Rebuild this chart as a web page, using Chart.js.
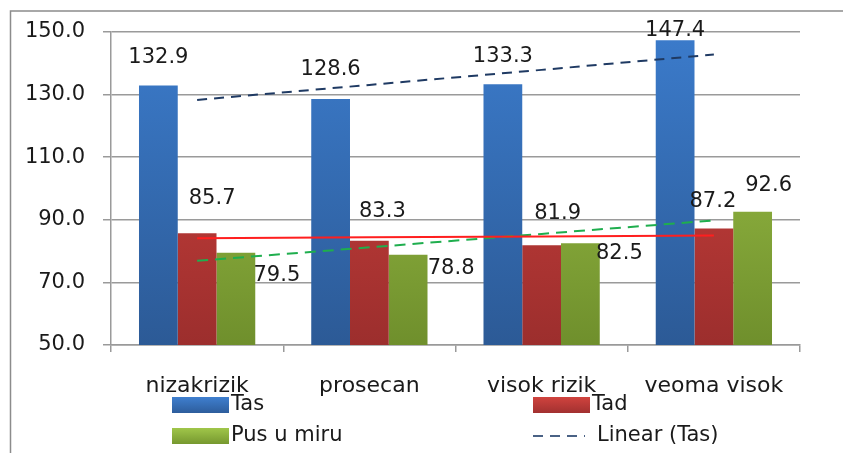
<!DOCTYPE html>
<html>
<head>
<meta charset="utf-8">
<script src="https://cdn.jsdelivr.net/npm/chart.js@4.4.0/dist/chart.umd.min.js"></script>
<style>
  html, body { margin: 0; padding: 0; background: #fff; }
  #wrap { width: 843px; height: 453px; }
</style>
</head>
<body>
<div id="wrap"><canvas id="myChart" width="843" height="453"></canvas></div>
<script>
// podaci
const categories = ['nizakrizik', 'prosecan', 'visok rizik', 'veoma visok'];
const tasValues = [132.9, 128.6, 133.3, 147.4];
const tadValues = [85.7, 83.3, 81.9, 87.2];
const pusValues = [79.5, 78.8, 82.5, 92.6];
// trend linije (ocitano sa slike)
const tasTrend = [128.3, 133.1, 137.9, 142.8];
const tadTrend = [84.1, 84.4, 84.7, 85.0];
const pusTrend = [76.9, 81.2, 85.5, 89.8];
const yTicks = [50, 70, 90, 110, 130, 150];

// pomeranje natpisa [dx, dy] od vrha stubica
const labelNudge = [
  [[0, -28], [0, -29], [0, -28], [0, -10]],
  [[15, -35], [13, -29], [16, -32], [-1, -27]],
  [[41, 23], [43, 14], [39, 10], [16, -26]]
];

const FONT = "'DejaVu Sans', sans-serif";
const TXT = '#1a1a1a';
const GRID = '#9a9a9a';

function grad(ctx, top, bottom) {
  const chart = ctx.chart;
  const area = chart.chartArea;
  if (!area) return top;
  const g = chart.ctx.createLinearGradient(0, area.top, 0, area.bottom);
  g.addColorStop(0, top);
  g.addColorStop(1, bottom);
  return g;
}

const frame = {
  id: 'frame',
  beforeDraw(chart) {
    const c = chart.ctx;
    c.save();
    c.fillStyle = '#fff';
    c.fillRect(0, 0, chart.width, chart.height);
    c.strokeStyle = '#8c8c8c';
    c.lineWidth = 1.5;
    c.beginPath();
    c.moveTo(10.5, chart.height);
    c.lineTo(10.5, 11);
    c.lineTo(chart.width, 11);
    c.stroke();
    c.restore();
  }
};

const valueLabels = {
  id: 'valueLabels',
  afterDatasetsDraw(chart) {
    const c = chart.ctx;
    c.save();
    c.font = '21px ' + FONT;
    c.fillStyle = TXT;
    c.textAlign = 'center';
    c.textBaseline = 'middle';
    [0, 1, 2].forEach((di) => {
      const meta = chart.getDatasetMeta(di);
      meta.data.forEach((bar, i) => {
        const n = labelNudge[di][i];
        c.fillText(chart.data.datasets[di].data[i].toFixed(1), bar.x + n[0], bar.y + n[1]);
      });
    });
    c.restore();
  }
};

const gridLegend = {
  id: 'gridLegend',
  afterDraw(chart) {
    const c = chart.ctx;
    const items = [
      { ds: 0, x: 172, y: 405 },
      { ds: 1, x: 533, y: 405 },
      { ds: 2, x: 172, y: 436 },
      { ds: 3, x: 533, y: 436 }
    ];
    c.save();
    c.font = '21px ' + FONT;
    c.fillStyle = TXT;
    c.textBaseline = 'middle';
    items.forEach((it) => {
      const d = chart.data.datasets[it.ds];
      if (d.type === 'line') {
        c.strokeStyle = '#4a6285';
        c.lineWidth = 2;
        c.setLineDash([10, 7]);
        c.beginPath();
        c.moveTo(it.x, it.y);
        c.lineTo(it.x + 52, it.y);
        c.stroke();
        c.setLineDash([]);
      } else {
        const g = c.createLinearGradient(0, it.y - 8, 0, it.y + 8);
        g.addColorStop(0, d.legendTop);
        g.addColorStop(1, d.legendBottom);
        c.fillStyle = g;
        c.fillRect(it.x, it.y - 8, 57, 16);
      }
      c.fillStyle = TXT;
      c.fillText(d.label, it.x + (d.type === 'line' ? 64 : 59), it.y);
    });
    c.restore();
  }
};

const ctx = document.getElementById('myChart').getContext('2d');
const myChart = new Chart(ctx, {
  type: 'bar',
  data: {
    labels: categories,
    datasets: [
      {
        label: 'Tas',
        data: tasValues,
        order: 2,
        legendTop: '#3f7fcf', legendBottom: '#2d5d9c',
        backgroundColor: (c) => grad(c, '#3b7bcb', '#2c5a96')
      },
      {
        label: 'Tad',
        data: tadValues,
        order: 2,
        legendTop: '#d0433e', legendBottom: '#a23130',
        backgroundColor: (c) => grad(c, '#d4443f', '#9c2e2d')
      },
      {
        label: 'Pus u miru',
        data: pusValues,
        order: 2,
        legendTop: '#a0c64a', legendBottom: '#76982f',
        backgroundColor: (c) => grad(c, '#a3c84c', '#6f8f2c')
      },
      {
        type: 'line',
        label: 'Linear (Tas)',
        data: tasTrend,
        order: 1,
        borderColor: '#1f3a63',
        borderWidth: 2,
        borderDash: [10, 7],
        pointRadius: 0,
        fill: false
      },
      {
        type: 'line',
        label: 'Linear (Tad)',
        data: tadTrend,
        order: 1,
        borderColor: '#ff1f1f',
        borderWidth: 2,
        pointRadius: 0,
        fill: false
      },
      {
        type: 'line',
        label: 'Linear (Pus u miru)',
        data: pusTrend,
        order: 1,
        borderColor: '#1fae4e',
        borderWidth: 2,
        borderDash: [11, 7],
        pointRadius: 0,
        fill: false
      }
    ]
  },
  options: {
    responsive: false,
    animation: false,
    datasets: {
      bar: { categoryPercentage: 0.675, barPercentage: 1.0 }
    },
    layout: { padding: { top: 32, right: 43, left: 0, bottom: 0 } },
    plugins: {
      legend: { display: false },
      tooltip: { enabled: false }
    },
    scales: {
      x: {
        offset: true,
        grid: {
          offset: true,
          drawOnChartArea: false,
          drawTicks: true,
          tickLength: 7,
          color: GRID,
          lineWidth: 1.5
        },
        border: { display: true, color: GRID, width: 1.5 },
        ticks: {
          color: TXT,
          font: { family: FONT, size: 22 },
          padding: 21,
          maxRotation: 0,
          autoSkip: false
        },
        afterFit(scale) { scale.height = 108; }
      },
      y: {
        min: 50,
        max: 150,
        afterBuildTicks(scale) { scale.ticks = yTicks.map((v) => ({ value: v })); },
        grid: {
          color: GRID,
          lineWidth: 1.5,
          tickLength: 8
        },
        border: { display: true, color: GRID, width: 1.5 },
        ticks: {
          color: TXT,
          font: { family: FONT, size: 21 },
          padding: 18,
          callback: (v) => Number(v).toFixed(1)
        },
        afterFit(scale) { scale.width = 111; }
      }
    }
  },
  plugins: [frame, valueLabels, gridLegend]
});
</script>
</body>
</html>
